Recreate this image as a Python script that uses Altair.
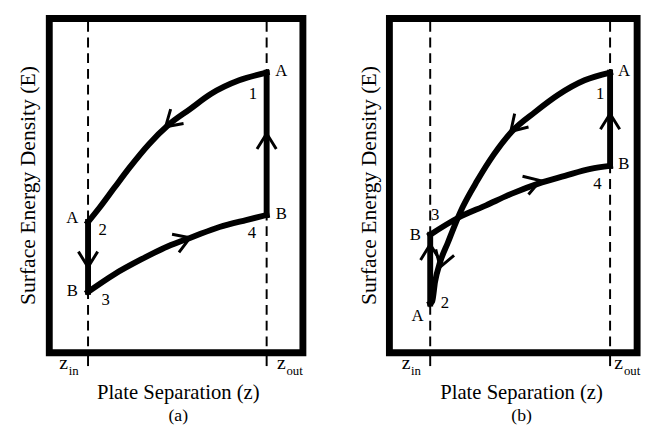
import altair as alt
import pandas as pd

FONT = "Liberation Serif"
CHEVRON = "M-1,-0.62L0,0L-1,0.62"

# ---------------- panel (a) ----------------
# path segments: 0 = A1->A2 curve, 1 = A2->B3 vertical, 2 = B3->B4 curve, 3 = B4->A1 vertical
a_seg = [0, 0, 0, 0, 0, 0, 0, 0, 0, 0, 1, 1, 2, 2, 2, 2, 2, 2, 2, 2, 3, 3]
a_path_z = [1.0, 0.846, 0.687, 0.571, 0.451, 0.341, 0.231, 0.148, 0.066, 0.0,
            0.0, 0.0,
            0.0, 0.148, 0.297, 0.445, 0.588, 0.736, 0.885, 1.0,
            1.0, 1.0]
a_path_E = [0.838, 0.815, 0.774, 0.729, 0.682, 0.624, 0.553, 0.494, 0.435, 0.391,
            0.391, 0.182,
            0.182, 0.235, 0.279, 0.318, 0.347, 0.376, 0.397, 0.412,
            0.412, 0.838]
a_arrow_z = [0.434, 0.0, 0.571, 1.0]
a_arrow_E = [0.676, 0.256, 0.344, 0.656]
a_arrow_angle = [138, 90, 339, 270]
a_label_text = ["A", "1", "A", "2", "B", "3", "B", "4"]
a_label_z = [1.082, 0.923, -0.088, 0.082, -0.088, 0.099, 1.082, 0.918]
a_label_E = [0.844, 0.774, 0.403, 0.368, 0.185, 0.156, 0.415, 0.359]

# ---------------- panel (b) ----------------
b_seg = [0] * 14 + [1, 1] + [2] * 8 + [3, 3]
b_path_z = [1.0, 0.858, 0.710, 0.585, 0.454, 0.355, 0.262, 0.180, 0.137, 0.098,
            0.055, 0.027, 0.011, 0.0,
            0.0, 0.0,
            0.0, 0.153, 0.311, 0.454, 0.601, 0.749, 0.891, 1.0,
            1.0, 1.0]
b_path_E = [0.838, 0.815, 0.771, 0.721, 0.662, 0.594, 0.515, 0.435, 0.382, 0.329,
            0.271, 0.212, 0.153, 0.147,
            0.147, 0.353,
            0.353, 0.403, 0.441, 0.476, 0.506, 0.529, 0.550, 0.559,
            0.559, 0.838]
b_arrow_z = [0.448, 0.055, 0.0, 0.612, 1.0]
b_arrow_E = [0.662, 0.256, 0.324, 0.515, 0.715]
b_arrow_angle = [134, 108, 270, 342, 270]
b_label_text = ["A", "1", "B", "4", "3", "B", "2", "A"]
b_label_z = [1.077, 0.945, 1.077, 0.929, 0.027, -0.082, 0.082, -0.071]
b_label_E = [0.844, 0.774, 0.565, 0.506, 0.412, 0.353, 0.147, 0.109]

# shared
z_pos = [0.0, 1.0]
z_sub = ["in", "out"]
x_title = "Plate Separation (z)"
y_title = "Surface Energy Density (E)"


def panel(seg, pz, pE, az, aE, aang, lt, lz, lE, letter, xdom, width,
          zz, zs, zy, zt):
    xs = alt.Scale(domain=xdom, nice=False, zero=False)
    ys = alt.Scale(domain=[0, 1], nice=False, zero=False)

    def X(f):
        return alt.X(f, type="quantitative", scale=xs, axis=None)

    def Y(f):
        return alt.Y(f, type="quantitative", scale=ys, axis=None)

    path = pd.DataFrame({"z": pz, "E": pE, "seg": seg, "i": list(range(len(pz)))})
    curves = path[path.seg.isin([0, 2])]
    verts = path[path.seg.isin([1, 3])]
    arrows = pd.DataFrame({"z": az, "E": aE, "ang": aang})
    labels = pd.DataFrame({"z": lz, "E": lE, "t": lt})
    zl = pd.DataFrame({"z": z_pos, "sub": z_sub,
                       "top": [0.99, 0.99], "bot": [-0.005, -0.005],
                       "t0": [0.0, 0.0], "t1": [-0.04, -0.04],
                       "zz": zz, "zs": zs,
                       "Ez": [-0.05, -0.05], "Es": [-0.066, -0.066],
                       "zt": ["z", "z"]})
    titles = pd.DataFrame({"z": [zt], "E": [-0.122], "t": [x_title],
                           "Ep": [-0.1895], "p": [letter],
                           "zy": [zy], "Ey": [0.5], "ty": [y_title]})

    dashed = alt.Chart(zl).mark_rule(strokeDash=[10, 6], strokeWidth=2, color="black").encode(
        x=X("z"), y=Y("top"), y2="bot")
    tick = alt.Chart(zl).mark_rule(strokeWidth=2, color="black").encode(
        x=X("z"), y=Y("t0"), y2="t1")
    cl = alt.Chart(curves).mark_line(strokeWidth=6, color="black", interpolate="monotone",
                                     strokeCap="square").encode(
        x=X("z"), y=Y("E"), detail="seg:N")
    vl = alt.Chart(verts).mark_line(strokeWidth=6, color="black", strokeCap="square").encode(
        x=X("z"), y=Y("E"), detail="seg:N", order=alt.Order("i:Q"))
    arr = alt.Chart(arrows).mark_point(shape=CHEVRON, filled=False, strokeWidth=3, size=1000,
                                        color="black", opacity=1).encode(
        x=X("z"), y=Y("E"), angle=alt.Angle("ang:Q", scale=None))
    lab = alt.Chart(labels).mark_text(font=FONT, fontSize=17, color="black",
                                      baseline="middle", align="center").encode(
        x=X("z"), y=Y("E"), text="t:N")
    zmain = alt.Chart(zl).mark_text(font=FONT, fontSize=20, color="black",
                                    align="right", baseline="alphabetic").encode(
        x=X("zz"), y=Y("Ez"), text="zt:N")
    zsub = alt.Chart(zl).mark_text(font=FONT, fontSize=13, color="black",
                                   align="left", baseline="alphabetic").encode(
        x=X("zs"), y=Y("Es"), text="sub:N")
    xt = alt.Chart(titles).mark_text(font=FONT, fontSize=21, color="black",
                                     baseline="middle", align="center").encode(
        x=X("z"), y=Y("E"), text="t:N")
    pl = alt.Chart(titles).mark_text(font=FONT, fontSize=18, color="black",
                                     baseline="middle", align="center").encode(
        x=X("z"), y=Y("Ep"), text="p:N")
    yt = alt.Chart(titles).mark_text(font=FONT, fontSize=22, color="black", angle=270,
                                     baseline="middle", align="center").encode(
        x=X("zy"), y=Y("Ey"), text="ty:N")
    return alt.layer(dashed, tick, cl, vl, arr, lab, zmain, zsub, xt, pl, yt).properties(
        width=width, height=340)


pa = panel(a_seg, a_path_z, a_path_E, a_arrow_z, a_arrow_E, a_arrow_angle,
           a_label_text, a_label_z, a_label_E, "(a)", [-0.217, 1.203], 258,
           [-0.112, 1.107], [-0.108, 1.111], -0.335, 0.505)
pb = panel(b_seg, b_path_z, b_path_E, b_arrow_z, b_arrow_E, b_arrow_angle,
           b_label_text, b_label_z, b_label_E, "(b)", [-0.2268, 1.1503], 252,
           [-0.109, 1.071], [-0.107, 1.077], -0.339, 0.508)

chart = alt.hconcat(pa, pb, spacing=48).properties(
    padding={"left": 6, "top": 3, "right": 0, "bottom": 0}
).configure(background="white").configure_view(stroke="black", strokeWidth=7)

chart.save("out.html", embed_options={"renderer": "svg", "actions": False})
